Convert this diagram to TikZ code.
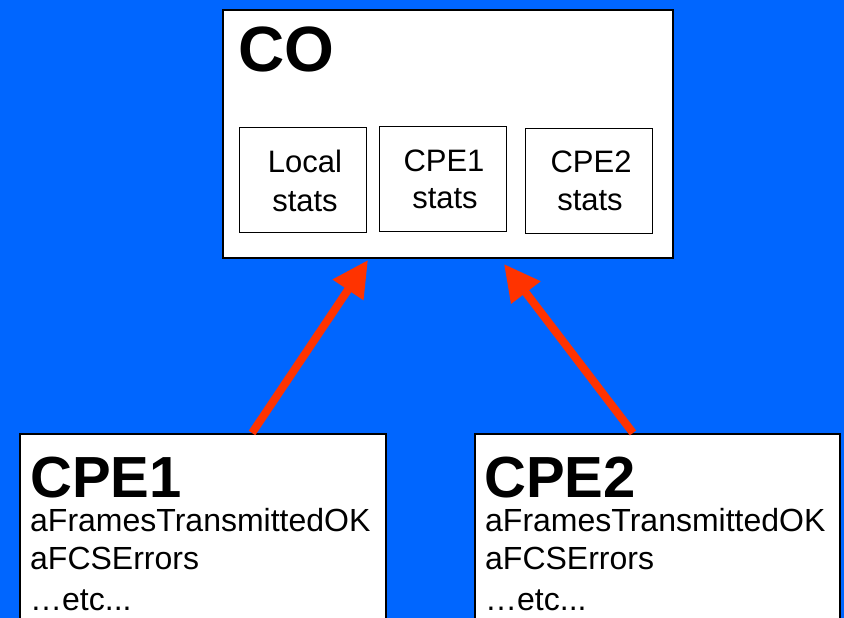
\documentclass[tikz,border=0pt]{standalone}
\usepackage{fontspec}
\setmainfont{Liberation Sans}
\usetikzlibrary{arrows.meta}
\definecolor{bg}{HTML}{0066FF}
\definecolor{arr}{HTML}{FF3300}
\begin{document}
\begin{tikzpicture}[x=1pt,y=-1pt,
  box/.style={draw=black, fill=white, line width=2pt, inner sep=0pt, anchor=north west},
  statbox/.style={draw=black, fill=white, line width=1.4pt, inner sep=0pt, anchor=north west,
    minimum width=127pt, minimum height=105pt},
  bigtitle/.style={anchor=base west, inner sep=0pt, font=\fontsize{64}{64}\selectfont\bfseries},
  cpetitle/.style={anchor=base west, inner sep=0pt, font=\fontsize{58}{58}\selectfont\bfseries},
  stattext/.style={anchor=base, inner sep=0pt, font=\fontsize{31}{31}\selectfont},
  bodytext/.style={anchor=base west, inner sep=0pt, font=\fontsize{32}{32}\selectfont},
  link/.style={draw=arr, line width=8pt, -{Triangle[length=36pt,width=35pt]}}]
\fill[bg] (0,0) rectangle (844,618);
\useasboundingbox (0,0) rectangle (844,618);
\clip (0,0) rectangle (844,618);

% CO box
\node[box, minimum width=450pt, minimum height=248pt] (co) at (222,9) {};
\node[bigtitle] (cot) at (238,72) {CO};
\node[statbox] (ls) at (239,127) {};
\node[stattext] (ls1) at (305,172) {Local};
\node[stattext] (ls2) at (305,211) {stats};
\node[statbox] (c1s) at (379,126) {};
\node[stattext] (c1s1) at (444,171) {CPE1};
\node[stattext] (c1s2) at (445,208) {stats};
\node[statbox] (c2s) at (525,128) {};
\node[stattext] (c2s1) at (591,172) {CPE2};
\node[stattext] (c2s2) at (590,210) {stats};

% CPE boxes
\node[box, minimum width=366pt, minimum height=220pt] (cpe1) at (19,433) {};
\node[cpetitle] (cpe1t) at (30,497) {CPE1};
\node[bodytext] (cpe1a) at (30,531) {aFramesTransmittedOK};
\node[bodytext] (cpe1b) at (30,569) {aFCSErrors};
\node[bodytext] (cpe1c) at (30,610) {…etc...};

\node[box, minimum width=365pt, minimum height=220pt] (cpe2) at (474,433) {};
\node[cpetitle] (cpe2t) at (484,497) {CPE2};
\node[bodytext] (cpe2a) at (485,531) {aFramesTransmittedOK};
\node[bodytext] (cpe2b) at (485,569) {aFCSErrors};
\node[bodytext] (cpe2c) at (485,610) {…etc...};

% arrows
\coordinate (a1s) at (cpe1.north -| 252,0);
\coordinate (a1e) at (368,260);
\coordinate (a2s) at (cpe2.north -| 633,0);
\coordinate (a2e) at (504,264);
\draw[link] (a1s) -- (a1e);
\draw[link] (a2s) -- (a2e);
\end{tikzpicture}
\end{document}
